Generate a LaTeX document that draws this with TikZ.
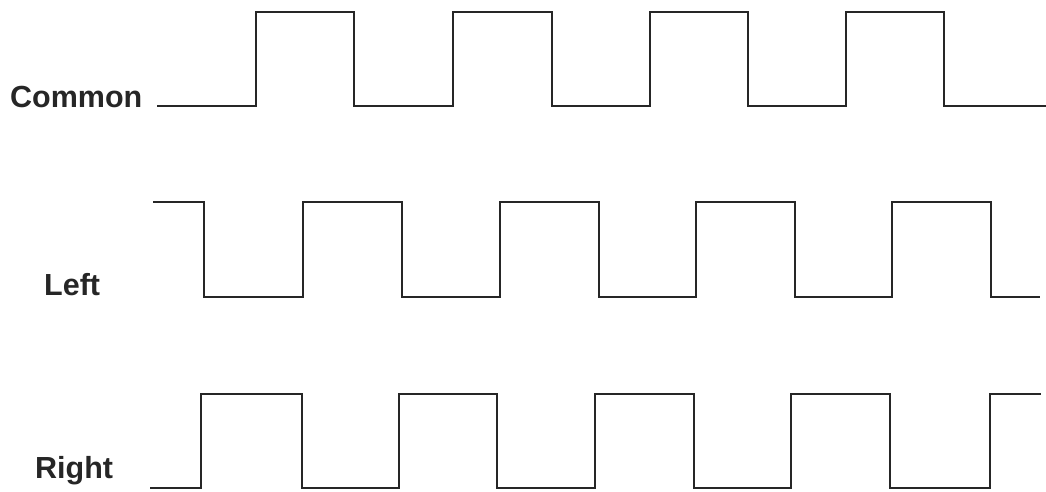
\documentclass[tikz,border=0pt]{standalone}
\usepackage{fontspec}
\setmainfont{Liberation Sans}
\begin{document}
\begin{tikzpicture}[x=1pt,y=-1pt,
  wave/.style={line width=2.8pt, color=black!85, line join=miter},
  lbl/.style={anchor=base west, inner sep=0pt, font=\fontsize{30.5}{36}\selectfont\bfseries, text=black!85}]
\useasboundingbox (0,0) rectangle (1046,492);
\node[lbl] (common) at (10,108) {Common};
\node[lbl] (left) at (44,295) {Left};
\node[lbl] (right) at (35,478) {Right};
% Common
\draw[wave] (157,106) -- (256,106) -- (256,12) -- (354,12) -- (354,106) -- (453,106) -- (453,12)
  -- (552,12) -- (552,106) -- (650,106) -- (650,12) -- (748,12) -- (748,106) -- (846,106)
  -- (846,12) -- (944,12) -- (944,106) -- (1046,106);
% Left
\draw[wave] (153,202) -- (204,202) -- (204,297) -- (303,297) -- (303,202) -- (402,202) -- (402,297)
  -- (500,297) -- (500,202) -- (599,202) -- (599,297) -- (696,297) -- (696,202) -- (795,202)
  -- (795,297) -- (892,297) -- (892,202) -- (991,202) -- (991,297) -- (1040,297);
% Right
\draw[wave] (150,488) -- (201,488) -- (201,394) -- (302,394) -- (302,488) -- (399,488) -- (399,394)
  -- (497,394) -- (497,488) -- (595,488) -- (595,394) -- (694,394) -- (694,488) -- (791,488)
  -- (791,394) -- (890,394) -- (890,488) -- (990,488) -- (990,394) -- (1041,394);
\end{tikzpicture}
\end{document}
